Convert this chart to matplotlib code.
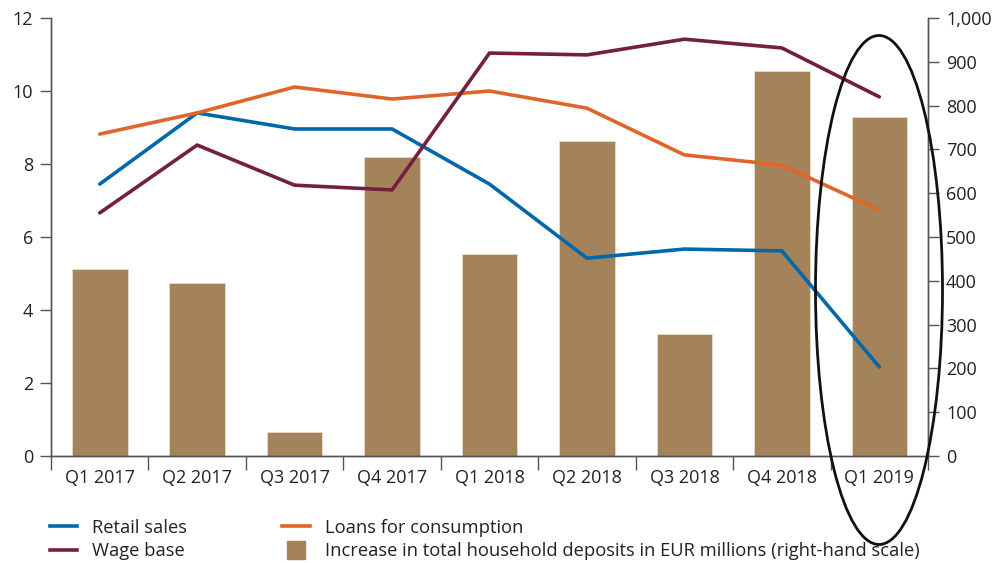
import numpy as np
import matplotlib.pyplot as plt
from matplotlib.patches import Ellipse
from matplotlib.lines import Line2D

plt.rcParams['font.family'] = ['Open Sans', 'DejaVu Sans']

quarters = ['Q1 2017', 'Q2 2017', 'Q3 2017', 'Q4 2017', 'Q1 2018',
            'Q2 2018', 'Q3 2018', 'Q4 2018', 'Q1 2019']
retail = [7.45, 9.4, 8.96, 8.96, 7.45, 5.42, 5.67, 5.62, 2.44]
loans = [8.82, 9.4, 10.11, 9.78, 10.0, 9.53, 8.25, 7.97, 6.74]
wage = [6.66, 8.52, 7.42, 7.29, 11.04, 10.99, 11.42, 11.18, 9.84]
deposits = [427, 395, 55, 683, 461, 719, 279, 879, 774]

c_blue = '#0068a8'
c_orange = '#e0652a'
c_wage = '#751f3f'
c_bar = '#a5835a'
c_axis = '#555555'
c_text = '#222222'
fs = 13

fig = plt.figure(figsize=(10.06, 5.63), dpi=100)
ax = fig.add_axes([0.0507, 0.190, 0.8718, 0.778])
ax2 = ax.twinx()
ax.set_zorder(ax2.get_zorder() + 1)
ax.patch.set_visible(False)

x = np.arange(len(quarters))
ax2.bar(x, deposits, width=0.57, color=c_bar, edgecolor='#e8dcc8', linewidth=0.6)
ax.plot(x, retail, color=c_blue, lw=2.6, solid_capstyle='round')
ax.plot(x, loans, color=c_orange, lw=2.6, solid_capstyle='round')
ax.plot(x, wage, color=c_wage, lw=2.6, solid_capstyle='round')

ax.set_xlim(-0.5, len(quarters) - 0.5)
ax.set_ylim(0, 12)
ax2.set_ylim(0, 1000)
ax.set_yticks(range(0, 13, 2))
ax2.set_yticks(range(0, 1001, 100))
ax2.set_yticklabels(['{:,}'.format(v) for v in range(0, 1001, 100)])

ax.set_xticks(x)
ax.set_xticklabels(quarters)
ax.set_xticks(np.arange(-0.5, len(quarters)), minor=True)
ax.tick_params(axis='x', which='major', length=0, pad=9, labelsize=fs, labelcolor=c_text)
ax.tick_params(axis='x', which='minor', length=10, width=1, color=c_axis)
ax.tick_params(axis='y', length=8, width=1, color=c_axis, labelsize=fs, labelcolor=c_text, pad=5)
ax2.tick_params(axis='y', length=8, width=1, color=c_axis, labelsize=fs, labelcolor=c_text, pad=5)

for a in (ax, ax2):
    a.spines['top'].set_visible(False)
    for s in ('left', 'right', 'bottom'):
        a.spines[s].set_color(c_axis)
        a.spines[s].set_linewidth(1)

handles = [Line2D([], [], color=c_blue, lw=2.6),
           Line2D([], [], color=c_wage, lw=2.6),
           Line2D([], [], color=c_orange, lw=2.6),
           Line2D([], [], ls='none', marker='s', markersize=13,
                  color=c_bar, markeredgecolor=c_bar)]
labels = ['Retail sales', 'Wage base', 'Loans for consumption',
          'Increase in total household deposits in EUR millions (right-hand scale)']
fig.legend(handles, labels, ncol=2, loc='upper left', bbox_to_anchor=(0.0497, 0.079),
           frameon=False, fontsize=13.2, handlelength=1.5, columnspacing=5.2,
           labelspacing=0.32, handletextpad=0.8, labelcolor=c_text,
           borderpad=0, borderaxespad=0)

# highlight ellipse around latest quarter
ell = Ellipse((879 / 1006, 1 - 290 / 563), 127 / 1006, 509 / 563,
              transform=fig.transFigure, fill=False, edgecolor='#111111', lw=2)
fig.patches.append(ell)

fig.savefig('out.png', dpi=100)
